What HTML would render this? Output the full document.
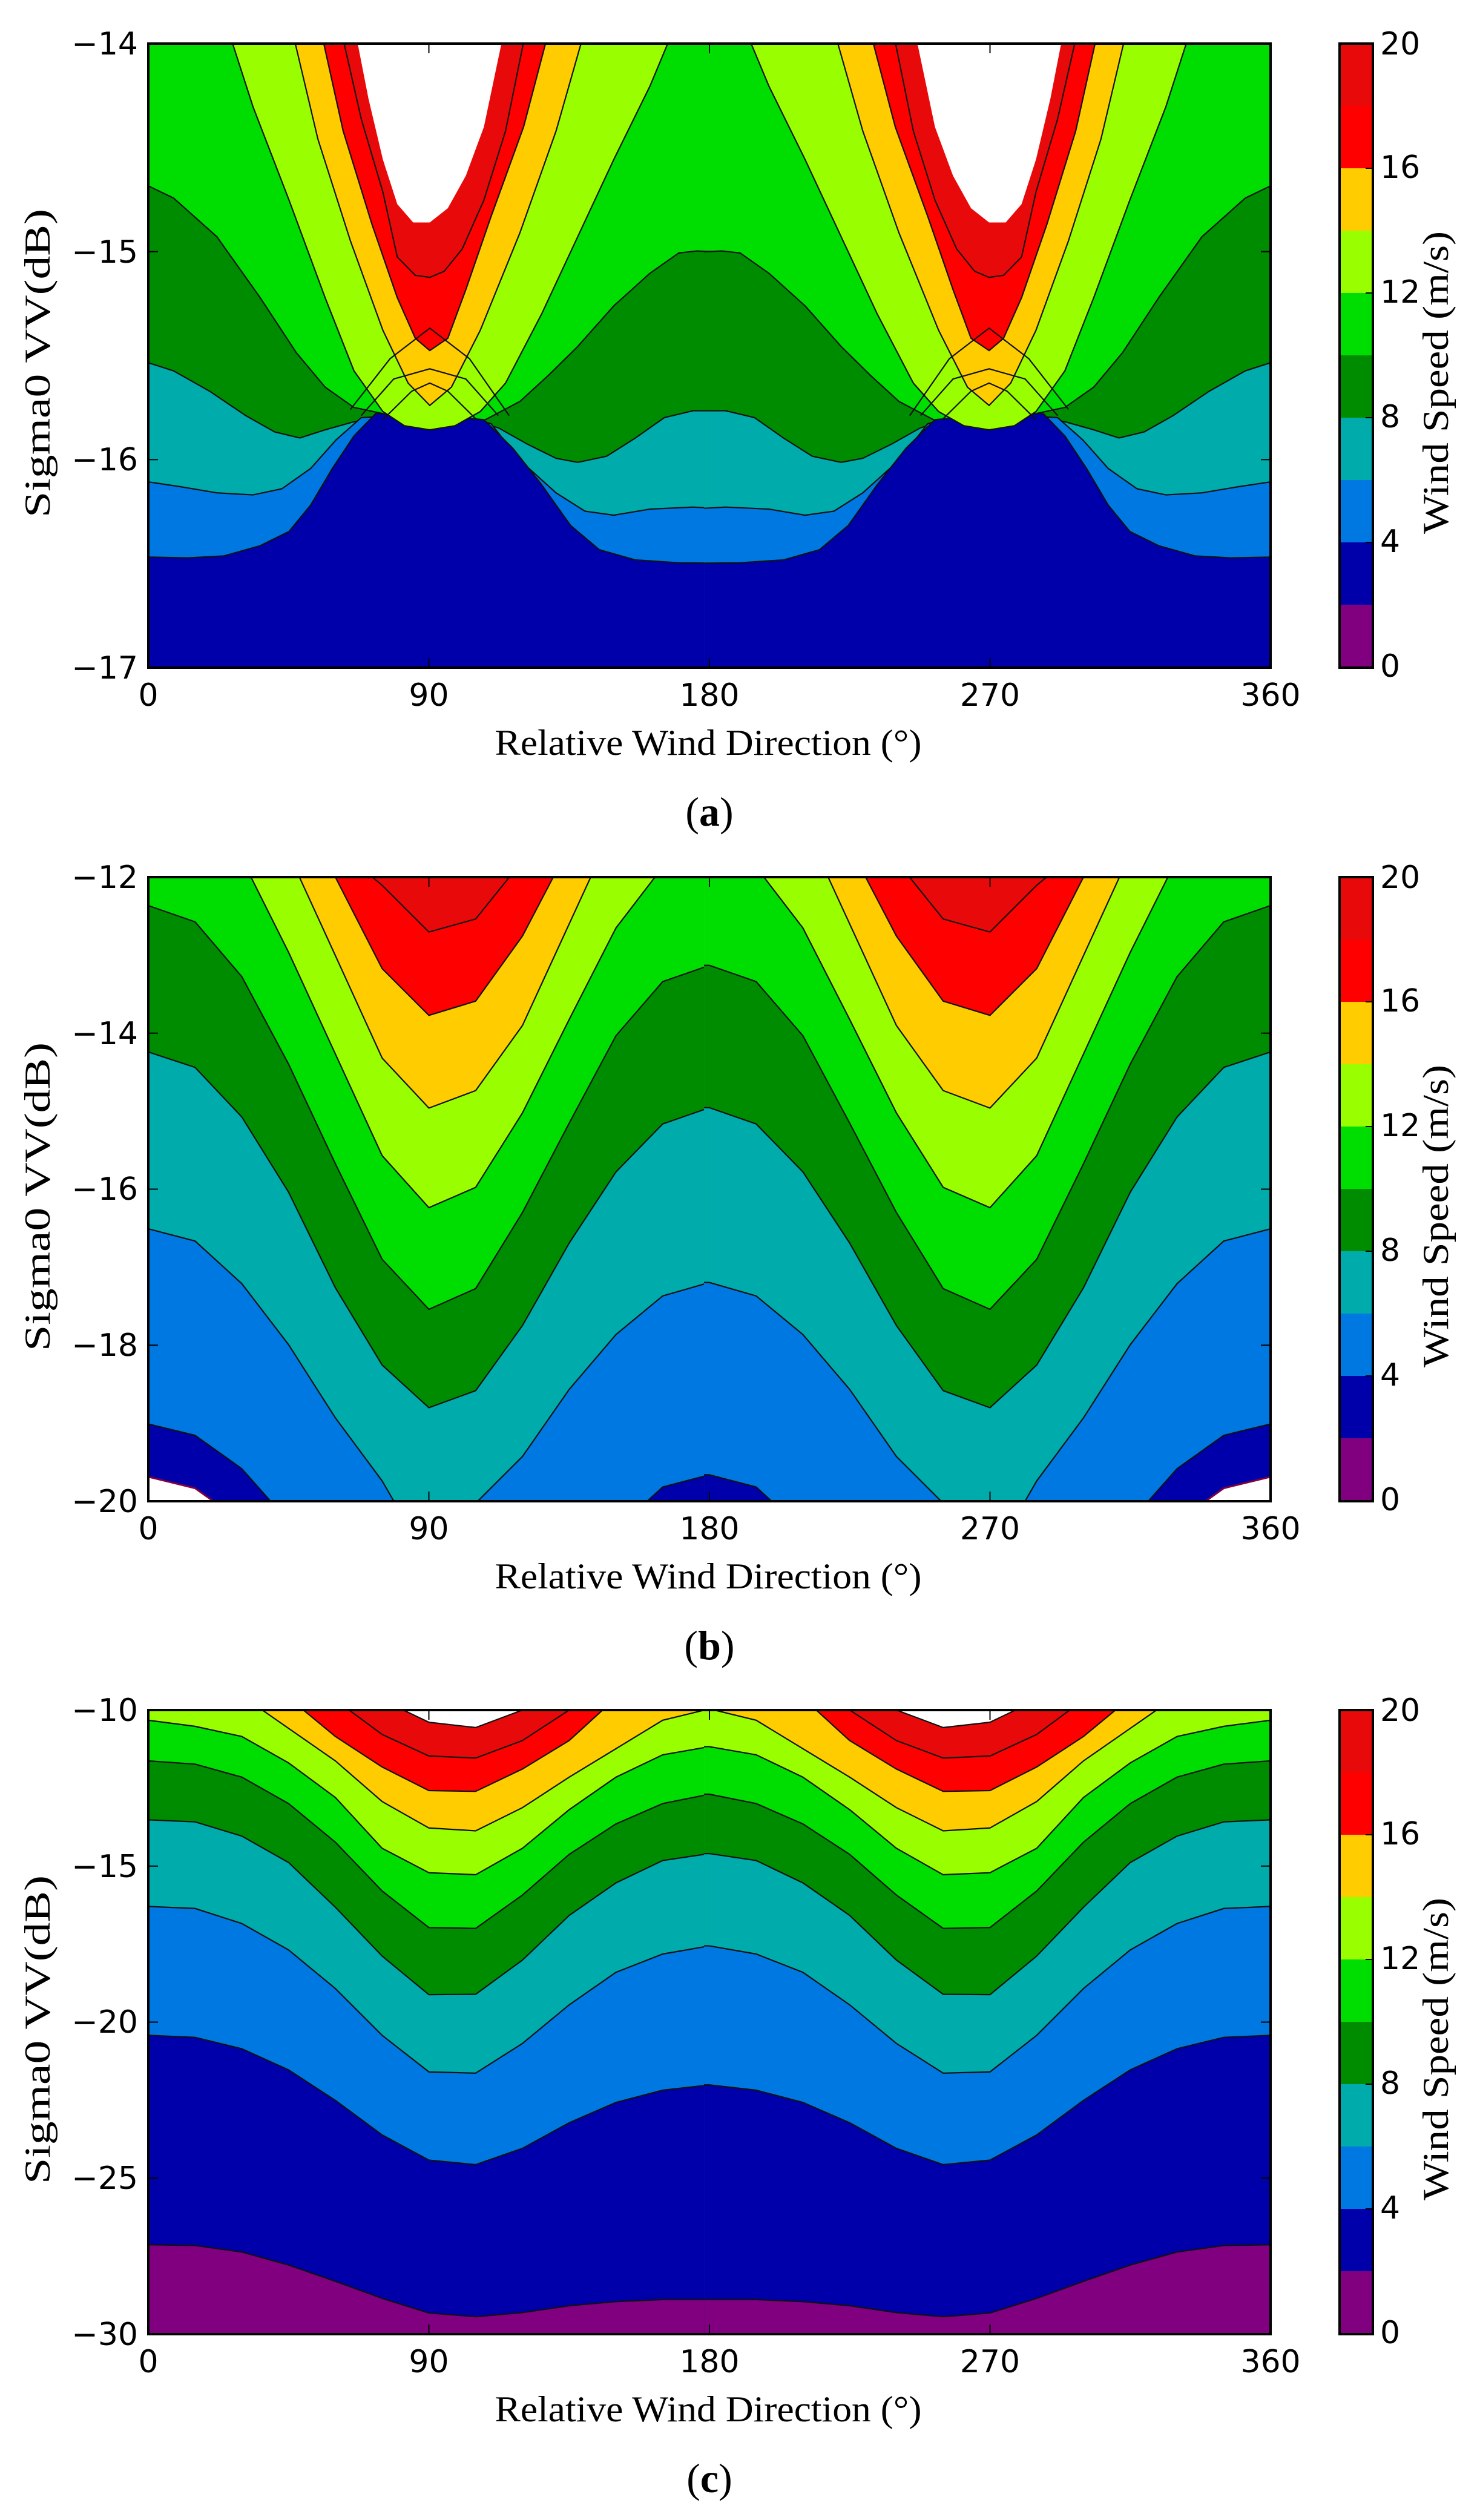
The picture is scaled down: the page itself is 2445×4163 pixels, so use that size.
<!DOCTYPE html>
<html><head><meta charset="utf-8"><style>
html,body{margin:0;padding:0;background:#fff}
svg{display:block}
.tk{font-family:"DejaVu Sans","Liberation Sans",sans-serif;font-size:52px;fill:#000}
.lb{font-family:"Liberation Serif",serif;font-size:60px;fill:#000}
.ln{fill:none;stroke:#111;stroke-width:2.2;vector-effect:non-scaling-stroke}
</style></head><body>
<svg width="2445" height="4163" viewBox="0 0 2445 4163" xmlns="http://www.w3.org/2000/svg" xmlns:xlink="http://www.w3.org/1999/xlink">
<defs>
<clipPath id="cp"><rect x="245" y="72" width="1854" height="1031"/></clipPath>

<g id="LA">
<polygon fill="#008c00" points="0,365 5,365 40,395 100,490 160,640 210,775 250,860 290,910 330,925 395,930 440,938 470,942 520,895 560,830 600,760 650,660 700,580 740,530 765,525 790,527 790,1700 0,1700"/>
<polyline class="ln" points="0,365 5,365 40,395 100,490 160,640 210,775 250,860 290,910 330,925 395,930 440,938 470,942 520,895 560,830 600,760 650,660 700,580 740,530 765,525 790,527"/>
<polygon fill="#00abab" points="0,800 5,800 40,820 90,870 140,930 180,970 215,985 250,965 290,945 330,935 395,935 450,940 490,960 530,1000 570,1035 600,1045 640,1030 680,985 720,935 760,918 790,918 790,1700 0,1700"/>
<polyline class="ln" points="0,800 5,800 40,820 90,870 140,930 180,970 215,985 250,965 290,945 330,935 395,935 450,940 490,960 530,1000 570,1035 600,1045 640,1030 680,985 720,935 760,918 790,918"/>
<polygon fill="#0078e2" points="0,1093 5,1093 50,1105 100,1120 150,1125 190,1110 230,1060 265,990 300,935 330,932 395,933 460,940 480,950 520,1040 570,1120 610,1165 650,1175 700,1160 760,1155 790,1158 790,1700 0,1700"/>
<polyline class="ln" points="0,1093 5,1093 50,1105 100,1120 150,1125 190,1110 230,1060 265,990 300,935 330,932 395,933 460,940 480,950 520,1040 570,1120 610,1165 650,1175 700,1160 760,1155 790,1158"/>
<polygon fill="#0000aa" points="0,1278 5,1278 60,1280 110,1275 160,1250 200,1215 230,1150 260,1060 290,980 320,925 395,928 470,940 510,1010 550,1100 590,1200 630,1260 680,1285 740,1292 790,1293 790,1700 0,1700"/>
<polyline class="ln" points="0,1278 5,1278 60,1280 110,1275 160,1250 200,1215 230,1150 260,1060 290,980 320,925 395,928 470,940 510,1010 550,1100 590,1200 630,1260 680,1285 740,1292 790,1293"/>
<polygon fill="#99ff00" points="110,-50 150,170 200,400 250,640 290,820 330,920 360,955 395,965 430,955 465,920 500,850 550,680 600,490 650,300 700,120 740,-50"/>
<polyline class="ln" points="110,-50 150,170 200,400 250,640 290,820 330,920 360,955 395,965 430,955 465,920 500,850 550,680 600,490 650,300 700,120 740,-50"/>
<polygon fill="#ffcc00" points="200,-50 240,250 285,500 330,720 365,850 395,905 425,860 465,720 520,480 570,230 615,-50"/>
<polyline class="ln" points="200,-50 240,250 285,500 330,720 365,850 395,905 425,860 465,720 520,480 570,230 615,-50"/>
<polygon fill="#ff0000" points="240,-50 275,230 315,460 350,640 375,740 395,770 420,740 445,620 480,440 525,220 565,-50"/>
<polyline class="ln" points="240,-50 275,230 315,460 350,640 375,740 395,770 420,740 445,620 480,440 525,220 565,-50"/>
<polygon fill="#e80a0a" points="268,-50 300,200 330,380 350,540 375,585 395,590 415,575 440,520 470,400 500,230 532,-50"/>
<polyline class="ln" points="268,-50 300,200 330,380 350,540 375,585 395,590 415,575 440,520 470,400 500,230 532,-50"/>
<polygon fill="#ffffff" points="288,-50 310,150 330,300 350,410 372,455 395,455 420,420 445,340 470,220 502,-50"/>
<polyline class="ln" points="300,930 345,840 395,815 445,840 490,930"/>
<polyline class="ln" points="285,915 340,790 395,715 450,790 505,930"/>
<polyline class="ln" points="330,940 370,870 395,850 420,870 460,940"/>
</g>

<g id="LB">
<polygon fill="#ff0000" points="0,-200 264.2,-60 329,35 393.8,150 458.6,118 523.4,-25 588.2,-150 790,-200 790,1700 0,1700"/>
<polyline class="ln" points="264.2,-60 329,35 393.8,150 458.6,118 523.4,-25"/>
<polygon fill="#ffcc00" points="0,-300 199.4,-210 264.2,15 329,240 393.8,355 458.6,320 523.4,160 588.2,-60 653,-200 790,-300 790,1700 0,1700"/>
<polyline class="ln" points="199.4,-210 264.2,15 329,240 393.8,355 458.6,320 523.4,160 588.2,-60"/>
<polygon fill="#99ff00" points="0,-400 134.6,-300 199.4,-43 264.2,208 329,460 393.8,583 458.6,540 523.4,380 588.2,130 653,-120 717.8,-300 790,-400 790,1700 0,1700"/>
<polyline class="ln" points="134.6,-300 199.4,-43 264.2,208 329,460 393.8,583 458.6,540 523.4,380 588.2,130 653,-120 717.8,-300"/>
<polygon fill="#00dd00" points="0,-400 5,-400 69.8,-250 134.6,-30 199.4,200 264.2,450 329,700 393.8,828 458.6,778 523.4,595 588.2,365 653,140 717.8,-10 782.6,-40 790,-40 790,1700 0,1700"/>
<polyline class="ln" points="69.8,-250 134.6,-30 199.4,200 264.2,450 329,700 393.8,828 458.6,778 523.4,595 588.2,365 653,140 717.8,-10 782.6,-40"/>
<polygon fill="#008c00" points="0,85 5,85 69.8,125 134.6,260 199.4,475 264.2,720 329,955 393.8,1078 458.6,1027 523.4,840 588.2,620 653,405 717.8,272 782.6,232 790,232 790,1700 0,1700"/>
<polyline class="ln" points="0,85 5,85 69.8,125 134.6,260 199.4,475 264.2,720 329,955 393.8,1078 458.6,1027 523.4,840 588.2,620 653,405 717.8,272 782.6,232 790,232"/>
<polygon fill="#00abab" points="0,445 5,445 69.8,483 134.6,605 199.4,790 264.2,1025 329,1215 393.8,1320 458.6,1278 523.4,1118 588.2,915 653,740 717.8,622 782.6,582 790,582 790,1700 0,1700"/>
<polyline class="ln" points="0,445 5,445 69.8,483 134.6,605 199.4,790 264.2,1025 329,1215 393.8,1320 458.6,1278 523.4,1118 588.2,915 653,740 717.8,622 782.6,582 790,582"/>
<polygon fill="#0078e2" points="0,880 5,880 69.8,910 134.6,1015 199.4,1165 264.2,1345 329,1500 393.8,1700 458.6,1555 523.4,1440 588.2,1275 653,1140 717.8,1045 782.6,1012 790,1012 790,1800 0,1800"/>
<polyline class="ln" points="0,880 5,880 69.8,910 134.6,1015 199.4,1165 264.2,1345 329,1500 393.8,1700 458.6,1555 523.4,1440 588.2,1275 653,1140 717.8,1045 782.6,1012 790,1012"/>
<polygon fill="#0000aa" points="0,1360 5,1360 69.8,1388 134.6,1470 199.4,1600 264.2,1800 588.2,1800 653,1620 717.8,1515 782.6,1485 790,1485 790,1900 0,1900"/>
<polyline class="ln" points="0,1360 5,1360 69.8,1388 134.6,1470 199.4,1600 264.2,1800 588.2,1800 653,1620 717.8,1515 782.6,1485 790,1485"/>
<polygon fill="#ffffff" points="0,1490 5,1490 69.8,1518 134.6,1600 199.4,1800 199.4,1900 0,1900"/>
<polyline fill="none" stroke="#800040" stroke-width="3" vector-effect="non-scaling-stroke" points="0,1490 5,1490 69.8,1518 134.6,1600"/>
</g>

<g id="LC">
<polygon fill="#e80a0a" points="0,-200 264.2,-100 329,-10 393.8,45 458.6,58 523.4,15 588.2,-40 653,-200 790,-200 790,1700 0,1700"/>
<polyline class="ln" points="329,-10 393.8,45 458.6,58 523.4,15 588.2,-40"/>
<polygon fill="#ff0000" points="0,-200 199.4,-100 264.2,-10 329,75 393.8,128 458.6,133 523.4,90 588.2,15 653,-40 717.8,-200 790,-200 790,1700 0,1700"/>
<polyline class="ln" points="264.2,-10 329,75 393.8,128 458.6,133 523.4,90 588.2,15 653,-40"/>
<polygon fill="#ffcc00" points="0,-300 69.8,-200 134.6,-100 199.4,-15 264.2,80 329,155 393.8,213 458.6,215 523.4,160 588.2,90 653,-15 717.8,-100 782.6,-150 790,-150 790,1700 0,1700"/>
<polyline class="ln" points="134.6,-100 199.4,-15 264.2,80 329,155 393.8,213 458.6,215 523.4,160 588.2,90 653,-15 717.8,-100"/>
<polygon fill="#99ff00" points="0,-150 5,-150 69.8,-100 134.6,-20 199.4,60 264.2,140 329,240 393.8,305 458.6,312 523.4,255 588.2,180 653,110 717.8,40 782.6,12 790,12 790,1700 0,1700"/>
<polyline class="ln" points="69.8,-100 134.6,-20 199.4,60 264.2,140 329,240 393.8,305 458.6,312 523.4,255 588.2,180 653,110 717.8,40 782.6,12 790,12"/>
<polygon fill="#00dd00" points="0,40 5,40 69.8,55 134.6,80 199.4,145 264.2,230 329,355 393.8,415 458.6,420 523.4,355 588.2,260 653,180 717.8,125 782.6,105 790,105 790,1700 0,1700"/>
<polyline class="ln" points="0,40 5,40 69.8,55 134.6,80 199.4,145 264.2,230 329,355 393.8,415 458.6,420 523.4,355 588.2,260 653,180 717.8,125 782.6,105 790,105"/>
<polygon fill="#008c00" points="0,140 5,140 69.8,148 134.6,180 199.4,245 264.2,340 329,460 393.8,550 458.6,552 523.4,470 588.2,370 653,295 717.8,245 782.6,222 790,222 790,1700 0,1700"/>
<polyline class="ln" points="0,140 5,140 69.8,148 134.6,180 199.4,245 264.2,340 329,460 393.8,550 458.6,552 523.4,470 588.2,370 653,295 717.8,245 782.6,222 790,222"/>
<polygon fill="#00abab" points="0,285 5,285 69.8,290 134.6,325 199.4,390 264.2,500 329,620 393.8,715 458.6,714 523.4,630 588.2,520 653,440 717.8,385 782.6,368 790,368 790,1700 0,1700"/>
<polyline class="ln" points="0,285 5,285 69.8,290 134.6,325 199.4,390 264.2,500 329,620 393.8,715 458.6,714 523.4,630 588.2,520 653,440 717.8,385 782.6,368 790,368"/>
<polygon fill="#0078e2" points="0,498 5,498 69.8,503 134.6,540 199.4,605 264.2,700 329,815 393.8,905 458.6,908 523.4,835 588.2,740 653,660 717.8,615 782.6,595 790,595 790,1700 0,1700"/>
<polyline class="ln" points="0,498 5,498 69.8,503 134.6,540 199.4,605 264.2,700 329,815 393.8,905 458.6,908 523.4,835 588.2,740 653,660 717.8,615 782.6,595 790,595"/>
<polygon fill="#0000aa" points="0,815 5,815 69.8,820 134.6,848 199.4,900 264.2,975 329,1060 393.8,1122 458.6,1133 523.4,1093 588.2,1030 653,980 717.8,950 782.6,937 790,937 790,1700 0,1700"/>
<polyline class="ln" points="0,815 5,815 69.8,820 134.6,848 199.4,900 264.2,975 329,1060 393.8,1122 458.6,1133 523.4,1093 588.2,1030 653,980 717.8,950 782.6,937 790,937"/>
<polygon fill="#800080" points="0,1330 5,1330 69.8,1332 134.6,1348 199.4,1380 264.2,1420 329,1462 393.8,1498 458.6,1507 523.4,1497 588.2,1480 653,1470 717.8,1465 782.6,1465 790,1465 790,1700 0,1700"/>
<polyline class="ln" points="0,1330 5,1330 69.8,1332 134.6,1348 199.4,1380 264.2,1420 329,1462 393.8,1498 458.6,1507 523.4,1497 588.2,1480 653,1470 717.8,1465 782.6,1465 790,1465"/>
</g>

<g id="cbar">
<rect x="2213" y="72" width="55" height="1031" fill="#fff"/>
<rect x="2213" y="998" width="55" height="105" fill="#800080"/>
<rect x="2213" y="895" width="55" height="104" fill="#0000aa"/>
<rect x="2213" y="792" width="55" height="104" fill="#0078e2"/>
<rect x="2213" y="689" width="55" height="104" fill="#00abab"/>
<rect x="2213" y="586" width="55" height="104" fill="#008c00"/>
<rect x="2213" y="483" width="55" height="104" fill="#00dd00"/>
<rect x="2213" y="380" width="55" height="104" fill="#99ff00"/>
<rect x="2213" y="277" width="55" height="104" fill="#ffcc00"/>
<rect x="2213" y="174" width="55" height="104" fill="#ff0000"/>
<rect x="2213" y="72" width="55" height="103" fill="#e80a0a"/>
<rect x="2213" y="72" width="55" height="1031" fill="none" stroke="#000" stroke-width="4"/>
<g stroke="#000" stroke-width="2"><line x1="2256" y1="896" x2="2268" y2="896"/><line x1="2256" y1="690" x2="2268" y2="690"/><line x1="2256" y1="484" x2="2268" y2="484"/><line x1="2256" y1="278" x2="2268" y2="278"/></g>
<g class="tk"><text x="2280" y="1118">0</text><text x="2280" y="912">4</text><text x="2280" y="706">8</text><text x="2280" y="500">12</text><text x="2280" y="294">16</text><text x="2280" y="90">20</text></g>
<text class="lb" transform="translate(2392,632) rotate(-90)" text-anchor="middle" textLength="500" lengthAdjust="spacingAndGlyphs">Wind Speed (m/s)</text>
</g>

<g id="frame">
<rect x="245" y="72" width="1854" height="1031" fill="none" stroke="#000" stroke-width="4"/>
<g stroke="#000" stroke-width="2">
<line x1="708.5" y1="72" x2="708.5" y2="88"/><line x1="1172" y1="72" x2="1172" y2="88"/><line x1="1635.5" y1="72" x2="1635.5" y2="88"/>
<line x1="708.5" y1="1103" x2="708.5" y2="1087"/><line x1="1172" y1="1103" x2="1172" y2="1087"/><line x1="1635.5" y1="1103" x2="1635.5" y2="1087"/>
</g>
<g class="tk" text-anchor="middle"><text x="245" y="1166">0</text><text x="708.5" y="1166">90</text><text x="1172" y="1166">180</text><text x="1635.5" y="1166">270</text><text x="2099" y="1166">360</text></g>
<text class="lb" x="1170" y="1247" text-anchor="middle" textLength="705" lengthAdjust="spacingAndGlyphs">Relative Wind Direction (°)</text>
</g>
</defs>

<g>
<g clip-path="url(#cp)"><g transform="translate(245,72) scale(1.19228,0.67166) translate(-5,-15)">
<rect x="0" y="0" width="1600" height="1600" fill="#00dd00"/>
<use xlink:href="#LA"/><use xlink:href="#LA" transform="translate(1565,0) scale(-1,1)"/>
</g></g>
<use xlink:href="#frame"/><use xlink:href="#cbar"/>
<g stroke="#000" stroke-width="2"><line x1="245" y1="415.7" x2="261" y2="415.7"/><line x1="245" y1="759.3" x2="261" y2="759.3"/><line x1="2099" y1="415.7" x2="2083" y2="415.7"/><line x1="2099" y1="759.3" x2="2083" y2="759.3"/></g>
<g class="tk" text-anchor="end"><text x="228" y="90">−14</text><text x="228" y="434">−15</text><text x="228" y="777">−16</text><text x="228" y="1121">−17</text></g>
<text class="lb" transform="translate(82,600) rotate(-90)" text-anchor="middle" textLength="510" lengthAdjust="spacingAndGlyphs">Sigma0 VV(dB)</text>
<text class="lb" x="1172" y="1364" text-anchor="middle" style="font-size:68px">(<tspan font-weight="bold">a</tspan>)</text>
</g>

<g transform="translate(0,1377)">
<g clip-path="url(#cp)"><g transform="translate(245,72) scale(1.19228,0.67166) translate(-5,-15)">
<rect x="0" y="0" width="1600" height="1600" fill="#e80a0a"/>
<use xlink:href="#LB"/><use xlink:href="#LB" transform="translate(1565,0) scale(-1,1)"/>
</g></g>
<use xlink:href="#frame"/><use xlink:href="#cbar"/>
<g stroke="#000" stroke-width="2"><line x1="245" y1="329.75" x2="261" y2="329.75"/><line x1="245" y1="587.5" x2="261" y2="587.5"/><line x1="245" y1="845.25" x2="261" y2="845.25"/><line x1="2099" y1="329.75" x2="2083" y2="329.75"/><line x1="2099" y1="587.5" x2="2083" y2="587.5"/><line x1="2099" y1="845.25" x2="2083" y2="845.25"/></g>
<g class="tk" text-anchor="end"><text x="228" y="90">−12</text><text x="228" y="348">−14</text><text x="228" y="605">−16</text><text x="228" y="863">−18</text><text x="228" y="1121">−20</text></g>
<text class="lb" transform="translate(82,600) rotate(-90)" text-anchor="middle" textLength="510" lengthAdjust="spacingAndGlyphs">Sigma0 VV(dB)</text>
<text class="lb" x="1172" y="1364" text-anchor="middle" style="font-size:68px">(<tspan font-weight="bold">b</tspan>)</text>
</g>

<g transform="translate(0,2753)">
<g clip-path="url(#cp)"><g transform="translate(245,72) scale(1.19228,0.67166) translate(-5,-15)">
<rect x="0" y="0" width="1600" height="1600" fill="#ffffff"/>
<use xlink:href="#LC"/><use xlink:href="#LC" transform="translate(1565,0) scale(-1,1)"/>
</g></g>
<use xlink:href="#frame"/><use xlink:href="#cbar"/>
<g stroke="#000" stroke-width="2"><line x1="245" y1="329.75" x2="261" y2="329.75"/><line x1="245" y1="587.5" x2="261" y2="587.5"/><line x1="245" y1="845.25" x2="261" y2="845.25"/><line x1="2099" y1="329.75" x2="2083" y2="329.75"/><line x1="2099" y1="587.5" x2="2083" y2="587.5"/><line x1="2099" y1="845.25" x2="2083" y2="845.25"/></g>
<g class="tk" text-anchor="end"><text x="228" y="90">−10</text><text x="228" y="348">−15</text><text x="228" y="605">−20</text><text x="228" y="863">−25</text><text x="228" y="1121">−30</text></g>
<text class="lb" transform="translate(82,600) rotate(-90)" text-anchor="middle" textLength="510" lengthAdjust="spacingAndGlyphs">Sigma0 VV(dB)</text>
<text class="lb" x="1172" y="1364" text-anchor="middle" style="font-size:68px">(<tspan font-weight="bold">c</tspan>)</text>
</g>
</svg>
</body></html>
